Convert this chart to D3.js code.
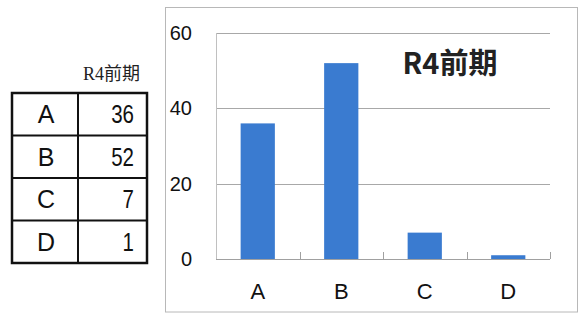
<!DOCTYPE html>
<html><head><meta charset="utf-8">
<script src="https://cdn.jsdelivr.net/npm/d3@7"></script>
<style>body{margin:0;background:#fff}svg{display:block}</style>
</head><body>
<svg id="c" width="584" height="318"></svg>
<script>
const categories = ["A","B","C","D"];
const values = [36,52,7,1];
const yTicks = [0,20,40,60];
const title = "R4前期";

const svg = d3.select("#c");
svg.append("rect").attr("width",584).attr("height",318).attr("fill","#fff");

// ---- table ----
const tLeft = 12, tRight = 147, tTop = 93, tBottom = 263, colX = 78;
const rowY = d3.scaleBand().domain(categories).range([tTop, tBottom]);
const tg = svg.append("g");
tg.append("text").attr("x",140).attr("y",80).attr("text-anchor","end")
  .attr("font-family","'Liberation Serif','Noto Sans CJK JP',serif").attr("font-size",18)
  .attr("fill","#222").text(title);
categories.forEach((c,i)=>{
  const cy = rowY(c) + rowY.bandwidth()/2;
  tg.append("text").attr("x",46).attr("y",cy+9).attr("text-anchor","middle")
    .attr("font-family","'Liberation Sans',Arial,sans-serif").attr("font-size",25).attr("fill","#111").text(c);
  tg.append("text").attr("transform",`translate(134,${cy+9}) scale(0.82,1)`).attr("text-anchor","end")
    .attr("font-family","'Liberation Sans',Arial,sans-serif").attr("font-size",25).attr("fill","#111").text(values[i]);
  if(i>0) tg.append("line").attr("x1",tLeft).attr("x2",tRight).attr("y1",rowY(c)).attr("y2",rowY(c))
    .attr("stroke","#111").attr("stroke-width",2);
});
tg.append("line").attr("x1",colX).attr("x2",colX).attr("y1",tTop).attr("y2",tBottom).attr("stroke","#111").attr("stroke-width",2);
tg.append("rect").attr("x",tLeft).attr("y",tTop).attr("width",tRight-tLeft).attr("height",tBottom-tTop)
  .attr("fill","none").attr("stroke","#111").attr("stroke-width",2.5);

// ---- chart ----
svg.append("rect").attr("x",165.5).attr("y",7.5).attr("width",412).attr("height",304.5)
  .attr("fill","none").attr("stroke","#b8b8b8").attr("stroke-width",1);

const pl = 216, pr = 550, pt = 33, pb = 259;
const x = d3.scaleBand().domain(categories).range([pl, pr]).paddingInner(0.59).paddingOuter(0.295);
const xb = d3.scaleBand().domain(categories).range([pl, pr]);
const y = d3.scaleLinear().domain([0,60]).range([pb, pt]);

// gridlines
svg.append("g").selectAll("line").data(yTicks.filter(d=>d>0)).join("line")
  .attr("x1",pl).attr("x2",pr).attr("y1",d=>Math.round(y(d))+0.5).attr("y2",d=>Math.round(y(d))+0.5)
  .attr("stroke","#a8a8a8").attr("stroke-width",1);
// left axis line
svg.append("line").attr("x1",pl+0.5).attr("x2",pl+0.5).attr("y1",pt).attr("y2",pb).attr("stroke","#c0c0c0");

// y labels
const yAxis = d3.axisLeft(y).tickValues(yTicks).tickSize(0).tickPadding(0);
const yg = svg.append("g").attr("transform",`translate(192,0)`).call(yAxis);
yg.select(".domain").remove();
yg.selectAll("text").attr("font-family","'Liberation Sans',Arial,sans-serif").attr("font-size",20).attr("fill","#111");

// bars
svg.append("g").selectAll("rect").data(values).join("rect")
  .attr("x",(d,i)=>x(categories[i])).attr("width",x.bandwidth())
  .attr("y",d=>y(d)).attr("height",d=>pb-y(d)).attr("fill","#3a7bd0");

// x axis baseline and ticks
svg.append("line").attr("x1",pl).attr("x2",pr).attr("y1",pb+0.5).attr("y2",pb+0.5).attr("stroke","#a0a0a0");
const boundaries = categories.map(c=>xb(c)+xb.bandwidth());
svg.append("g").selectAll("line").data(boundaries).join("line")
  .attr("x1",d=>Math.round(d)+0.5).attr("x2",d=>Math.round(d)+0.5).attr("y1",pb-7).attr("y2",pb)
  .attr("stroke","#a0a0a0");

// x labels
const xAxis = d3.axisBottom(xb).tickSize(0).tickPadding(0);
const xg = svg.append("g").attr("transform",`translate(0,${pb+24})`).call(xAxis);
xg.select(".domain").remove();
xg.selectAll("text").attr("font-family","'Liberation Sans',Arial,sans-serif").attr("font-size",22).attr("fill","#111");

// title
svg.append("text").attr("x",450).attr("y",74).attr("text-anchor","middle")
  .attr("font-family","'Noto Sans CJK JP',sans-serif").attr("font-weight","bold").attr("font-size",29)
  .attr("fill","#222").text(title);
</script>
</body></html>
